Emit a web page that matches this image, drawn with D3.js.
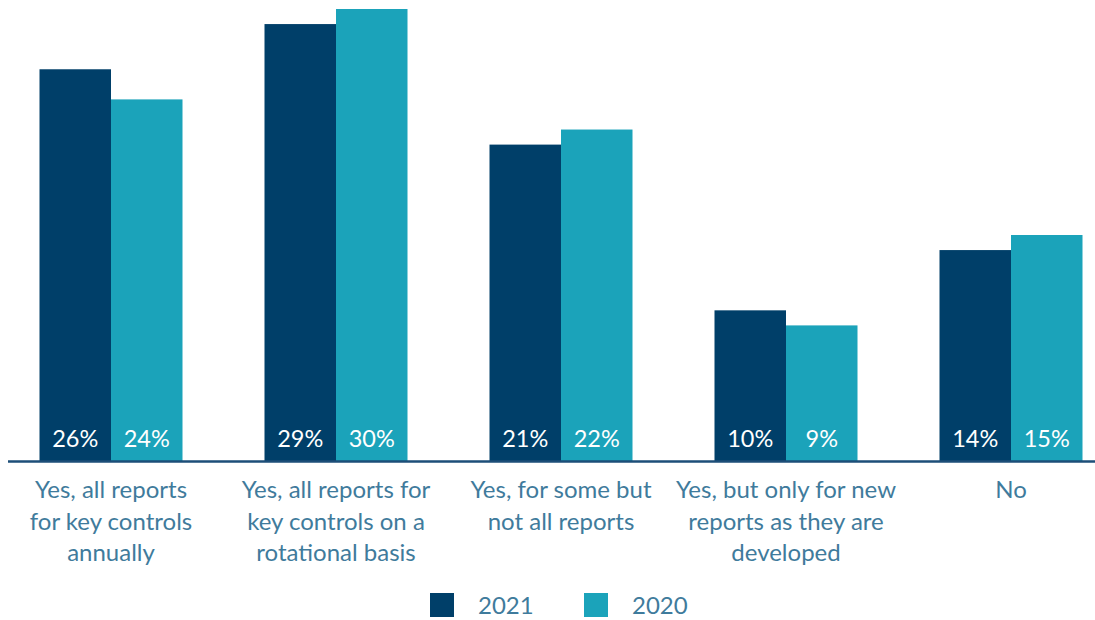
<!DOCTYPE html>
<html>
<head>
<meta charset="utf-8">
<script src="https://cdn.jsdelivr.net/npm/d3@7"></script>
<style>
  html, body { margin: 0; padding: 0; background: #ffffff; }
  svg { display: block; font-family: Lato, "Open Sans", sans-serif; }
</style>
</head>
<body>
<svg id="chart" width="1095" height="620"></svg>
<script>
// Survey responses: share of respondents per answer, by year
const categories = [
  ["Yes, all reports", "for key controls", "annually"],
  ["Yes, all reports for", "key controls on a", "rotational basis"],
  ["Yes, for some but", "not all reports"],
  ["Yes, but only for new", "reports as they are", "developed"],
  ["No"]
];
const years = ["2021", "2020"];
const values2021 = [26, 29, 21, 10, 14];
const values2020 = [24, 30, 22, 9, 15];
const colors = ["#003f69", "#1ba3ba"];

const svg = d3.select("#chart");
const W = 1095;
const baseline = 461;

const series = [values2021, values2020];
const keys = categories.map((c, i) => "c" + i);

// group centres along the axis
const x = d3.scalePoint().domain(keys).range([-1.5, 1123.5]).padding(0.5);
// bars inside a group
const groupWidth = 143;
const xi = d3.scaleBand().domain(years).range([-groupWidth / 2, groupWidth / 2]).padding(0);
const y = d3.scaleLinear().domain([0, 30]).range([baseline, 9]);

const groups = svg.selectAll("g.grp")
  .data(keys)
  .join("g")
  .attr("class", "grp")
  .attr("transform", d => `translate(${x(d)},0)`);

years.forEach((yr, s) => {
  groups.append("rect")
    .attr("x", xi(yr))
    .attr("width", xi.bandwidth())
    .attr("y", (d, i) => y(series[s][i]))
    .attr("height", (d, i) => baseline - y(series[s][i]))
    .attr("fill", colors[s]);

  groups.append("text")
    .attr("x", xi(yr) + xi.bandwidth() / 2)
    .attr("y", 447)
    .attr("text-anchor", "middle")
    .attr("fill", "#ffffff")
    .style("font-size", "23.5px")
    .text((d, i) => series[s][i] + "%");
});

// baseline axis
svg.append("line")
  .attr("x1", 8).attr("x2", W)
  .attr("y1", baseline + 0.5).attr("y2", baseline + 0.5)
  .attr("stroke", "#1d4e78")
  .attr("stroke-width", 2.5);

// category labels
groups.append("text")
  .attr("text-anchor", "middle")
  .attr("fill", "#3f7b9c")
  .style("font-size", "24px")
  .each(function(d, i) {
    d3.select(this).selectAll("tspan")
      .data(categories[i])
      .join("tspan")
      .attr("x", 0)
      .attr("y", (t, j) => 498 + j * 31.5)
      .text(t => t);
  });

// legend
const legendItems = [
  { label: years[0], color: colors[0], x: 430 },
  { label: years[1], color: colors[1], x: 584 }
];
const lg = svg.selectAll("g.legend")
  .data(legendItems)
  .join("g")
  .attr("class", "legend")
  .attr("transform", d => `translate(${d.x},593)`);
lg.append("rect").attr("width", 24).attr("height", 24).attr("fill", d => d.color);
lg.append("text")
  .attr("x", 48).attr("y", 21)
  .attr("fill", "#3f7b9c")
  .style("font-size", "24px")
  .text(d => d.label);
</script>
</body>
</html>
